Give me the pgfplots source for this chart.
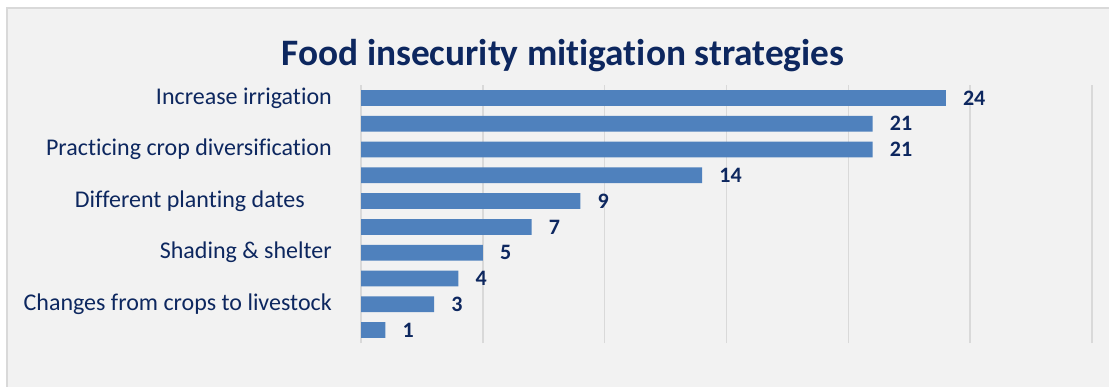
\documentclass[border=0pt]{standalone}
\usepackage{fontspec}
\setmainfont{Carlito}[Ligatures=NoCommon]
\usepackage{pgfplots}
\pgfplotsset{compat=1.18}
\definecolor{bg}{HTML}{F2F2F2}
\definecolor{bord}{HTML}{D9D9D9}
\definecolor{barc}{HTML}{4F81BD}
\definecolor{navy}{HTML}{0D275F}
\begin{document}
\begin{tikzpicture}[x=1pt,y=1pt]
\useasboundingbox (0,0) rectangle (831.75,289.5);
\fill[white] (0,0) rectangle (831.75,289.5);
\filldraw[fill=bg, draw=bord, line width=1.5pt] (5.25,-5) rectangle (840,283.5);
\node[font=\bfseries\fontsize{28}{33}\selectfont, text=navy] at (422.25,248) {Food insecurity mitigation strategies};
\begin{axis}[
  at={(270.75pt,32.25pt)}, anchor=south west,
  scale only axis, width=548.25pt, height=193.5pt,
  xbar, xmin=0, xmax=30, ymin=0.5, ymax=10.5,
  bar width=0.61,
  /pgf/number format/assume math mode=true,
  xtick={0,5,...,30}, xticklabel=\empty,
  xmajorgrids, grid style={bord, line width=1.1pt},
  axis line style={draw=none}, major tick length=0pt,
  ytick={10,8,6,4,2},
  yticklabels={Increase irrigation, Practicing crop diversification, {Different planting dates\hspace*{20.25pt}}, Shading \& shelter, Changes from crops to livestock},
  yticklabel style={font=\fontsize{18}{22}\selectfont, text=navy, inner sep=0pt, xshift=-21.75pt},
  nodes near coords,
  every node near coord/.append style={font=\bfseries\fontsize{16.5}{19}\selectfont, text=navy, anchor=west, inner sep=0pt, xshift=12.75pt},
]
\addplot[fill=barc, draw=none] coordinates {(24,10) (21,9) (21,8) (14,7) (9,6) (7,5) (5,4) (4,3) (3,2) (1,1)};
\end{axis}
\end{tikzpicture}
\end{document}
